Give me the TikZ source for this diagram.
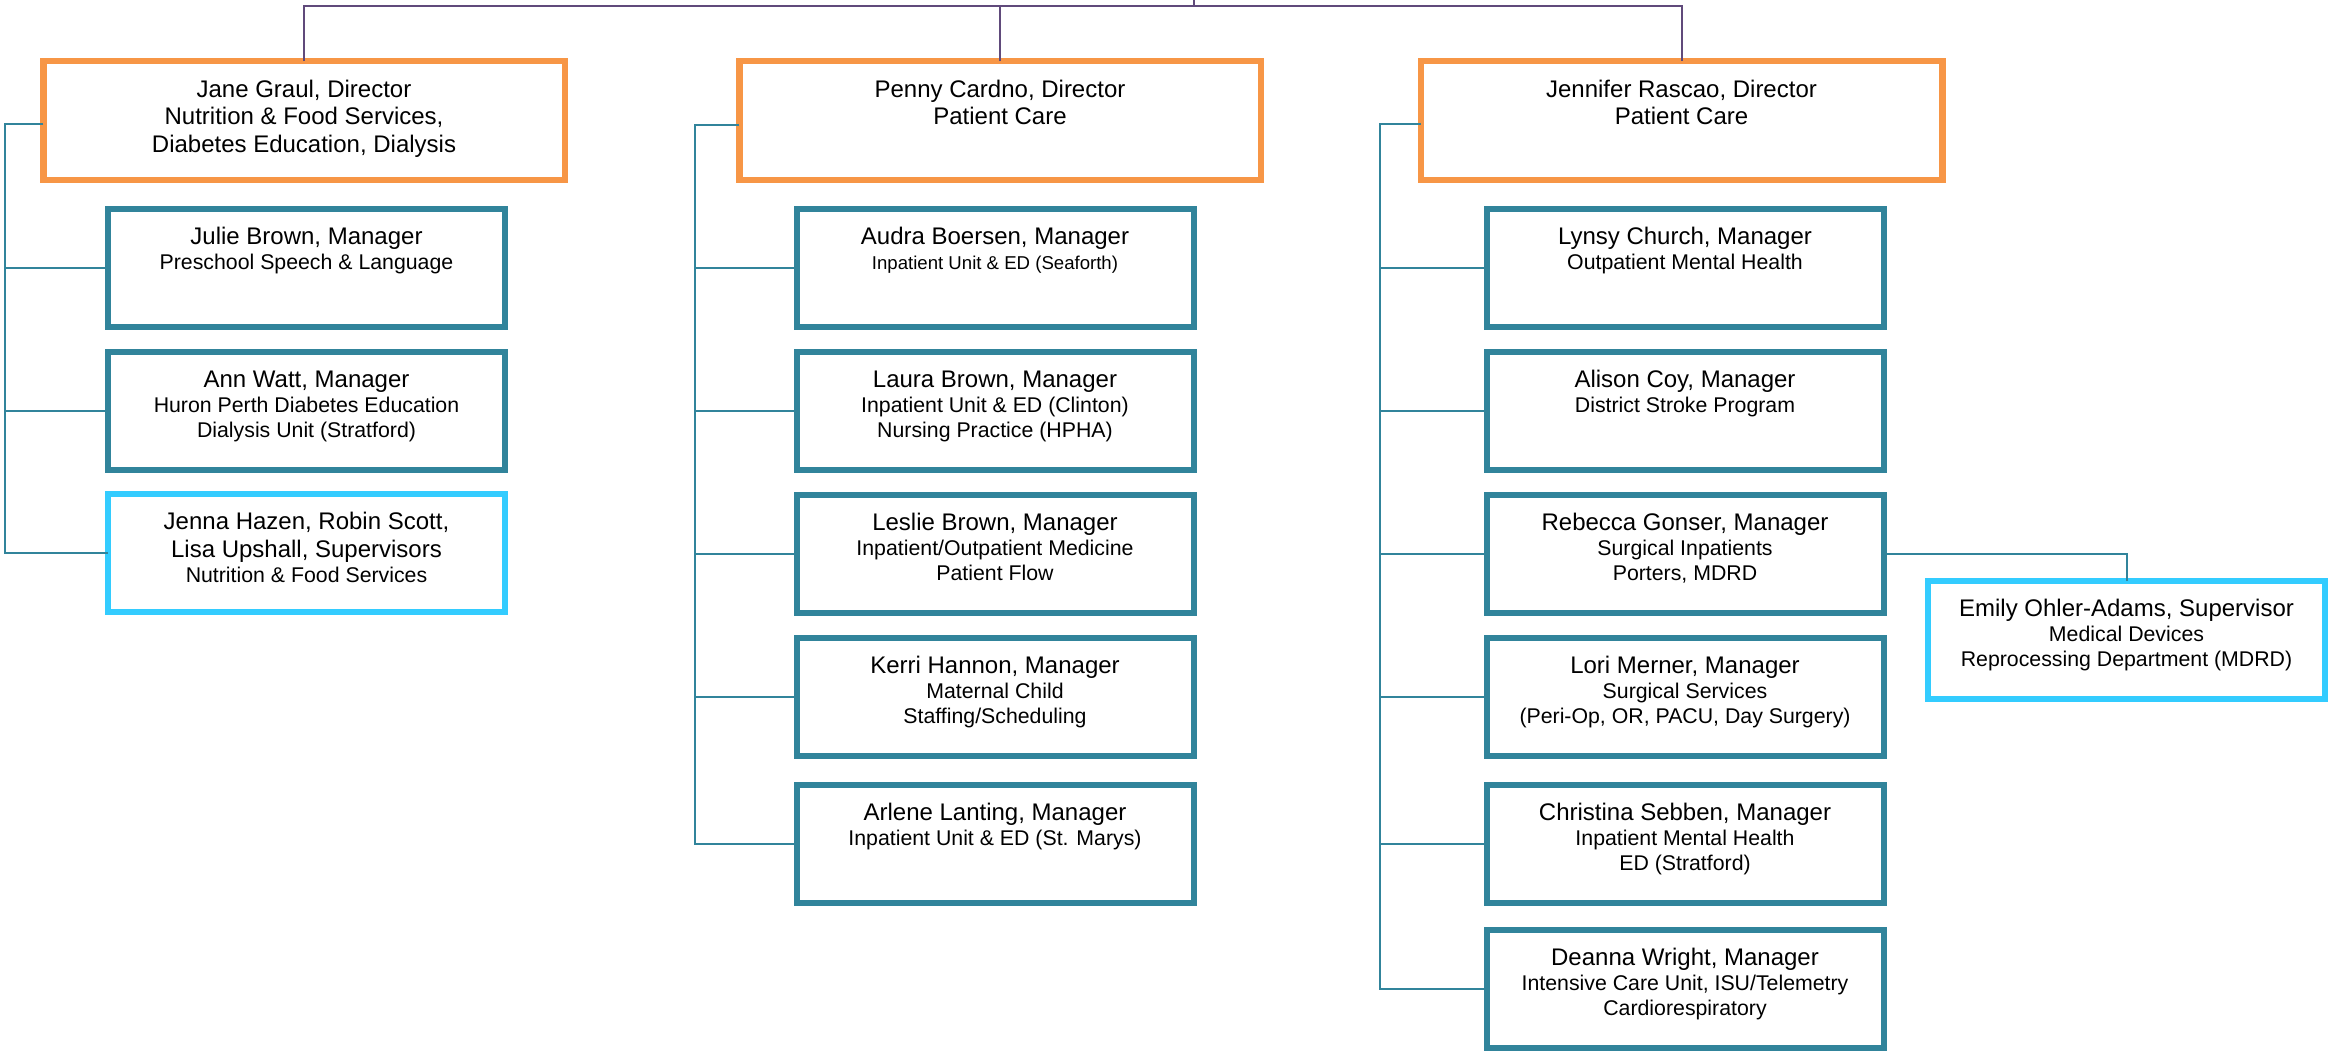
\documentclass[tikz,border=0pt]{standalone}
\usepackage{fontspec}
\setmainfont{Liberation Sans}
\definecolor{dirorange}{HTML}{F79646}
\definecolor{mgrteal}{HTML}{31849B}
\definecolor{supblue}{HTML}{33CCFF}
\definecolor{toppurple}{HTML}{604A7B}
\definecolor{lineteal}{HTML}{31849B}
\newcommand{\nmf}{\fontsize{12}{12.5}\selectfont}
\newcommand{\subf}{\fontsize{10.65}{12.5}\selectfont}
\newcommand{\smallsubf}{\fontsize{9.3}{12.5}\selectfont}
\newcommand{\dirf}{\fontsize{12}{13.75}\selectfont}
\newcommand{\mgrtext}[1]{\parbox[c][59pt][t]{198.5pt}{\centering\nmf\rule{0pt}{17.5pt}#1}}
\newcommand{\dirtext}[1]{\parbox[c][59.25pt][t]{260.75pt}{\centering\dirf\rule{0pt}{17.9pt}#1}}
\begin{document}
\begin{tikzpicture}[x=0.5pt,y=-0.5pt,
  dirbox/.style={draw=dirorange, line width=3.25pt, inner sep=0pt, outer sep=0pt, fill=white},
  mgrbox/.style={draw=mgrteal, line width=3pt, inner sep=0pt, outer sep=0pt, fill=white},
  supbox/.style={draw=supblue, line width=3pt, inner sep=0pt, outer sep=0pt, fill=white},
  conn/.style={draw=lineteal, line width=1pt},
  topline/.style={draw=toppurple, line width=1pt}]
\useasboundingbox (0,0) rectangle (2340,1054);

% Directors
\node[dirbox] (jane) at (304,120.5) {\dirtext{Jane Graul, Director\\Nutrition \& Food Services,\\Diabetes Education, Dialysis}};
\node[dirbox] (penny) at (1000,120.5) {\dirtext{Penny Cardno, Director\\Patient Care}};
\node[dirbox] (jennifer) at (1681.5,120.5) {\dirtext{Jennifer Rascao, Director\\Patient Care}};

% Column 1
\node[mgrbox] (m11) at (306.5,268) {\mgrtext{Julie Brown, Manager\\\subf Preschool Speech \& Language}};
\node[mgrbox] (m12) at (306.5,411) {\mgrtext{Ann Watt, Manager\\\subf Huron Perth Diabetes Education\\Dialysis Unit (Stratford)}};
\node[supbox] (m13) at (306.5,553) {\mgrtext{Jenna Hazen, Robin Scott,\\[1.65pt]Lisa Upshall, Supervisors\\\subf Nutrition \& Food Services}};

% Column 2
\node[mgrbox] (m21) at (995,268) {\mgrtext{Audra Boersen, Manager\\\smallsubf Inpatient Unit \& ED (Seaforth)}};
\node[mgrbox] (m22) at (995,411) {\mgrtext{Laura Brown, Manager\\\subf Inpatient Unit \& ED (Clinton)\\Nursing Practice (HPHA)}};
\node[mgrbox] (m23) at (995,554) {\mgrtext{Leslie Brown, Manager\\\subf Inpatient/Outpatient Medicine\\Patient Flow}};
\node[mgrbox] (m24) at (995,697) {\mgrtext{Kerri Hannon, Manager\\\subf Maternal Child\\Staffing/Scheduling}};
\node[mgrbox] (m25) at (995,844) {\mgrtext{Arlene Lanting, Manager\\\subf Inpatient Unit \& ED (St. Marys)}};

% Column 3
\node[mgrbox] (m31) at (1685,268) {\mgrtext{Lynsy Church, Manager\\\subf Outpatient Mental Health}};
\node[mgrbox] (m32) at (1685,411) {\mgrtext{Alison Coy, Manager\\\subf District Stroke Program}};
\node[mgrbox] (m33) at (1685,554) {\mgrtext{Rebecca Gonser, Manager\\\subf Surgical Inpatients\\Porters, MDRD}};
\node[mgrbox] (m34) at (1685,697) {\mgrtext{Lori Merner, Manager\\\subf Surgical Services\\(Peri-Op, OR, PACU, Day Surgery)}};
\node[mgrbox] (m35) at (1685,844) {\mgrtext{Christina Sebben, Manager\\\subf Inpatient Mental Health\\ED (Stratford)}};
\node[mgrbox] (m36) at (1685,989) {\mgrtext{Deanna Wright, Manager\\\subf Intensive Care Unit, ISU/Telemetry\\Cardiorespiratory}};

% Supervisor under Rebecca
\node[supbox] (emily) at (2126.5,640) {\mgrtext{Emily Ohler-Adams, Supervisor\\\subf Medical Devices\\Reprocessing Department (MDRD)}};

% Top connectors
\coordinate (root) at (1194,0);
\coordinate (bus) at (1194,6);
\draw[topline] (root) -- (bus);
\draw[topline] (jane.north) |- (bus) -| (jennifer.north);
\draw[topline] (penny.north) -- (penny.north |- bus);

% Column 1 connectors
\coordinate (c1) at (5,124);
\draw[conn] (c1 -| jane.west) -- (c1) |- (m13.west);
\draw[conn] (c1 |- m11.west) -- (m11.west);
\draw[conn] (c1 |- m12.west) -- (m12.west);

% Column 2 connectors
\coordinate (c2) at (695,125);
\draw[conn] (c2 -| penny.west) -- (c2) |- (m25.west);
\draw[conn] (c2 |- m21.west) -- (m21.west);
\draw[conn] (c2 |- m22.west) -- (m22.west);
\draw[conn] (c2 |- m23.west) -- (m23.west);
\draw[conn] (c2 |- m24.west) -- (m24.west);

% Column 3 connectors
\coordinate (c3) at (1380,124);
\draw[conn] (c3 -| jennifer.west) -- (c3) |- (m36.west);
\draw[conn] (c3 |- m31.west) -- (m31.west);
\draw[conn] (c3 |- m32.west) -- (m32.west);
\draw[conn] (c3 |- m33.west) -- (m33.west);
\draw[conn] (c3 |- m34.west) -- (m34.west);
\draw[conn] (c3 |- m35.west) -- (m35.west);

% Rebecca to Emily
\draw[conn] (m33.east) -| (emily.north);
\end{tikzpicture}
\end{document}
